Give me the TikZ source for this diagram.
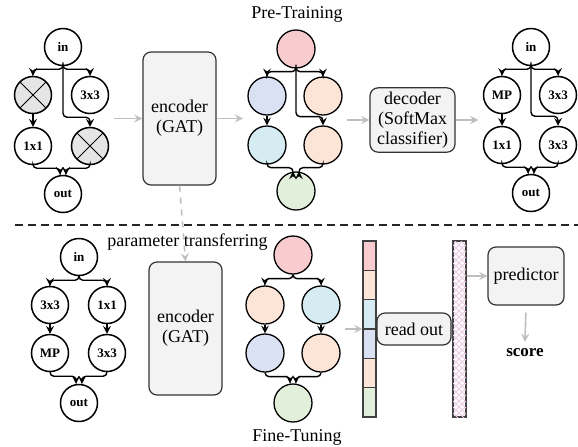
\documentclass[tikz,border=0pt]{standalone}
\usepackage{fontspec}
\setmainfont{Liberation Serif}
\usepackage{tikz}
\usetikzlibrary{arrows}
\usetikzlibrary{fit}
\usetikzlibrary{patterns}
\usetikzlibrary{calc}

\definecolor{nodepink}{HTML}{F8CBCF}
\definecolor{nodeblue}{HTML}{D9E1F2}
\definecolor{nodepeach}{HTML}{FCE4D6}
\definecolor{nodecyan}{HTML}{D5ECF2}
\definecolor{nodegreen}{HTML}{E2EFDA}
\definecolor{boxgray}{HTML}{F3F3F3}
\definecolor{hatchpink}{HTML}{EAC8E6}

\begin{document}
\begin{tikzpicture}[
    >=stealth,
    x=0.5pt, y=-0.5pt,
    op/.style={circle, draw, line width=0.75pt, minimum size=18.5pt, inner sep=0pt,
      font=\bfseries\fontsize{6.5}{7}\selectfont},
    zeroop/.style={op, fill=gray!20, path picture={
        \draw[line width=0.5pt] (path picture bounding box.north west) -- (path picture bounding box.south east)
        (path picture bounding box.south west) -- (path picture bounding box.north east);}},
    feat/.style={circle, draw, line width=0.65pt, minimum size=19pt, inner sep=0pt},
    module/.style={draw=black!80, line width=0.6pt, fill=boxgray, rounded corners=4pt,
      align=center, inner sep=2pt, font=\fontsize{9}{10}\selectfont},
    cell/.style={draw=black!75, line width=0.6pt, minimum width=6.5pt, minimum height=14.67pt, inner sep=0pt},
    link/.style={->, line width=0.7pt, rounded corners=2pt},
    flow/.style={->, draw=gray!50, line width=0.8pt},
    graphbox/.style={inner sep=2pt},
    phase/.style={font=\fontsize{9}{10}\selectfont},
  ]

  \useasboundingbox (0,0) rectangle (578,446);

  % Pre-training: sampled cell
  \node[op]     (a-in)  at (63,47)  {in};
  \node[zeroop] (a-l1)  at (33,95)  {};
  \node[op]     (a-r1)  at (90,95)  {3x3};
  \node[op]     (a-l2)  at (33,146) {1x1};
  \node[zeroop] (a-r2)  at (90,146) {};
  \node[op]     (a-out) at (63,194) {out};
  \node[graphbox, fit=(a-in)(a-l1)(a-r1)(a-l2)(a-r2)(a-out)] (a-graph) {};

  \draw[link] (a-in.south) -- ++(0,3) -| (a-l1.north);
  \draw[link] (a-in.south) -- ++(0,3) -| (a-r1.north);
  \draw[link] (a-in.south) -- ++(0,51) -| (a-r2.north);
  \draw[link] (a-l1) -- (a-l2);
  \draw[link] (a-l2.south) -- ++(0,3) -| ([xshift=-1.5pt]a-out.north);
  \draw[link] (a-r2.south) -- ++(0,3) -| ([xshift=1.5pt]a-out.north);

  % Pre-training: encoder
  \node[module, minimum width=36.5pt, minimum height=66.5pt] (enc1) at (179.5,118.5) {encoder\\(GAT)};

  % Pre-training: node embeddings
  \node[phase] (pretrain) at (297,14) {Pre-Training};
  \node[feat, fill=nodepink]  (b-in)  at (296,49)  {};
  \node[feat, fill=nodeblue]  (b-l1)  at (267,96)  {};
  \node[feat, fill=nodepeach] (b-r1)  at (323,96)  {};
  \node[feat, fill=nodecyan]  (b-l2)  at (267,145) {};
  \node[feat, fill=nodepeach] (b-r2)  at (323,145) {};
  \node[feat, fill=nodegreen] (b-out) at (296,191) {};
  \node[graphbox, fit=(b-in)(b-l1)(b-r1)(b-l2)(b-r2)(b-out)] (b-graph) {};

  \draw[link] (b-in.south) -- ++(0,3) -| (b-l1.north);
  \draw[link] (b-in.south) -- ++(0,3) -| (b-r1.north);
  \draw[link] (b-in.south) -- ++(0,48) -| (b-r2.north);
  \draw[link] (b-l1) -- (b-l2);
  \draw[link] (b-l2.south) -- ++(0,3) -| ([xshift=-1.5pt]b-out.north);
  \draw[link] (b-r2.south) -- ++(0,3) -| ([xshift=1.5pt]b-out.north);

  % Pre-training: decoder
  \node[module, minimum width=42.5pt, minimum height=32pt] (dec) at (412.5,120) {decoder\\(SoftMax\\classifier)};

  % Pre-training: predicted cell
  \node[op] (c-in)  at (531,47)  {in};
  \node[op] (c-l1)  at (502,95)  {MP};
  \node[op] (c-r1)  at (558,95)  {3x3};
  \node[op] (c-l2)  at (502,145) {1x1};
  \node[op] (c-r2)  at (558,145) {3x3};
  \node[op] (c-out) at (531,193) {out};
  \node[graphbox, fit=(c-in)(c-l1)(c-r1)(c-l2)(c-r2)(c-out)] (c-graph) {};

  \draw[link] (c-in.south) -- ++(0,3) -| (c-l1.north);
  \draw[link] (c-in.south) -- ++(0,3) -| (c-r1.north);
  \draw[link] (c-in.south) -- ++(0,50) -| (c-r2.north);
  \draw[link] (c-l1) -- (c-l2);
  \draw[link] (c-l2.south) -- ++(0,3) -| ([xshift=-1.5pt]c-out.north);
  \draw[link] (c-r2.south) -- ++(0,3) -| ([xshift=1.5pt]c-out.north);

  % Pre-training flow
  \draw[flow] (a-graph.east |- enc1.west) -- (enc1.west);
  \draw[flow] (enc1.east) -- (b-graph.west |- enc1.east);
  \draw[flow] (b-graph.east |- dec.west) -- (dec.west);
  \draw[flow] (dec.east) -- (c-graph.west |- dec.east);

  % Separator
  \coordinate (sep-l) at (15,225);
  \coordinate (sep-r) at (578,225);
  \draw[line width=0.75pt, black!85, dash pattern=on 4pt off 2.5pt] (sep-l) -- (sep-r);

  % Fine-tuning: input cell
  \node[op] (d-in)  at (79,257)  {in};
  \node[op] (d-l1)  at (50,305)  {3x3};
  \node[op] (d-r1)  at (107,305) {1x1};
  \node[op] (d-l2)  at (50,353)  {MP};
  \node[op] (d-r2)  at (107,353) {3x3};
  \node[op] (d-out) at (79,403)  {out};
  \node[graphbox, fit=(d-in)(d-l1)(d-r1)(d-l2)(d-r2)(d-out)] (d-graph) {};

  \draw[link] (d-in.south) -- ++(0,4) -| (d-l1.north);
  \draw[link] (d-in.south) -- ++(0,4) -| (d-r1.north);
  \draw[link] (d-l1) -- (d-l2);
  \draw[link] (d-r1) -- (d-r2);
  \draw[link] (d-l2.south) -- ++(0,4) -| ([xshift=-1.5pt]d-out.north);
  \draw[link] (d-r2.south) -- ++(0,4) -| ([xshift=1.5pt]d-out.north);

  % Fine-tuning: encoder (transferred)
  \node[module, minimum width=36.5pt, minimum height=66.5pt] (enc2) at (185.5,328.5) {encoder\\(GAT)};
  \node[phase] (transfer) at (187.5,242) {parameter transferring};
  \draw[flow, dashed] (enc1.south) -- (enc2.north);

  % Fine-tuning: node embeddings
  \node[feat, fill=nodepink]  (e-in)  at (293,255) {};
  \node[feat, fill=nodepeach] (e-l1)  at (265,305) {};
  \node[feat, fill=nodecyan]  (e-r1)  at (321,305) {};
  \node[feat, fill=nodeblue]  (e-l2)  at (265,353) {};
  \node[feat, fill=nodepeach] (e-r2)  at (321,353) {};
  \node[feat, fill=nodegreen] (e-out) at (293,403) {};
  \node[graphbox, fit=(e-in)(e-l1)(e-r1)(e-l2)(e-r2)(e-out)] (e-graph) {};
  \node[phase] (finetune) at (297,437) {Fine-Tuning};

  \draw[link] (e-in.south) -- ++(0,4) -| (e-l1.north);
  \draw[link] (e-in.south) -- ++(0,4) -| (e-r1.north);
  \draw[link] (e-l1) -- (e-l2);
  \draw[link] (e-r1) -- (e-r2);
  \draw[link] (e-l2.south) -- ++(0,4) -| ([xshift=-1.5pt]e-out.north);
  \draw[link] (e-r2.south) -- ++(0,4) -| ([xshift=1.5pt]e-out.north);

  % Fine-tuning: stacked embeddings, read out, predictor
  \foreach \c [count=\i] in {nodepink,nodepeach,nodecyan,nodeblue,nodepeach,nodegreen}
    \node[cell, fill=\c] (v\i) at (369.5,{226.33+29.33*\i}) {};
  \node[module, minimum width=37pt, minimum height=16pt] (readout) at (414,329) {read out};
  \node[draw=black!75, line width=0.6pt, minimum width=6.5pt, minimum height=88pt, inner sep=0pt,
    pattern=north east lines, pattern color=hatchpink,
    postaction={pattern=north west lines, pattern color=hatchpink}] (hbar) at (459.5,329) {};
  \node[module, minimum width=38pt, minimum height=29pt] (pred) at (526,276) {predictor};
  \node[font=\bfseries\fontsize{8.5}{9}\selectfont] (score) at (525,353) {score};

  \draw[flow] (e-graph.east |- readout.west) -- (v4.west |- readout.west);
  \draw[flow] (hbar.east |- pred.west) -- (pred.west);
  \draw[flow, shorten <=3.5pt] (pred.south) -- (score.north);

\end{tikzpicture}
\end{document}
